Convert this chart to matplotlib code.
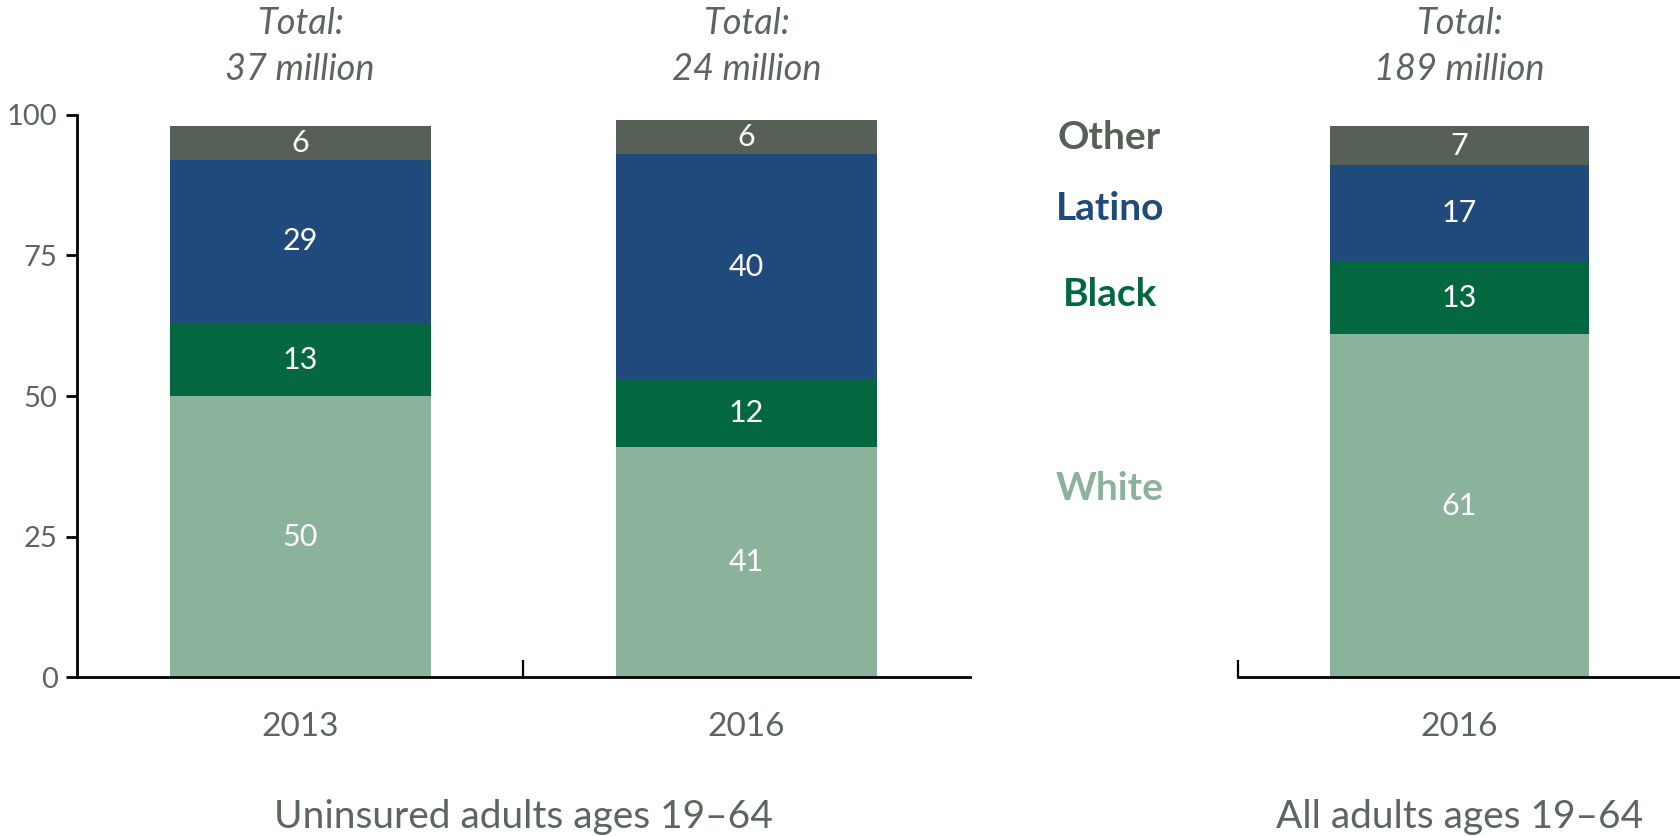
import matplotlib
matplotlib.use("Agg")
import matplotlib.pyplot as plt
import numpy as np

plt.rcParams['font.family'] = ['Lato', 'DejaVu Sans']

# data
groups = ["Other", "Latino", "Black", "White"]
left_years = ["2013", "2016"]
left_white = [50, 41]
left_black = [13, 12]
left_latino = [29, 40]
left_other = [6, 6]
left_totals = ["37 million", "24 million"]

right_years = ["2016"]
right_white = [61]
right_black = [13]
right_latino = [17]
right_other = [7]
right_totals = ["189 million"]

colors = {"White": "#8BB29B", "Black": "#03683F", "Latino": "#20497C", "Other": "#576057"}
text_gray = "#5B665C"

fig = plt.figure(figsize=(16.81, 8.36), dpi=100)
ax1 = fig.add_axes([0.0458, 0.1896, 0.531, 0.6732])
ax2 = fig.add_axes([0.7365, 0.1896, 0.2635, 0.6732])


def stacked(ax, years, white, black, latino, other, totals, width=0.585):
    x = np.arange(len(years))
    bottom = np.zeros(len(years))
    for name, vals in [("White", white), ("Black", black), ("Latino", latino), ("Other", other)]:
        vals = np.array(vals, dtype=float)
        ax.bar(x, vals, width, bottom=bottom, color=colors[name], edgecolor="none")
        for xi, b, v in zip(x, bottom, vals):
            ax.text(xi, b + v / 2, f"{v:.0f}", ha="center", va="center",
                    color="white", fontsize=22)
        bottom += vals
    for xi, t in zip(x, totals):
        ax.text(xi, 112.2, "Total:\n" + t, ha="center", va="center", style="italic",
                color=text_gray, fontsize=26, linespacing=1.48, clip_on=False)
    ax.set_ylim(0, 100)
    ax.set_xticks(x)
    ax.set_xticklabels(years, fontsize=24, color=text_gray)
    ax.tick_params(axis="x", length=0, pad=25)
    ax.tick_params(axis="x", which="minor", direction="in", length=12, width=1.6, color="black")
    for s in ["top", "right"]:
        ax.spines[s].set_visible(False)
    ax.spines["bottom"].set_linewidth(2)
    ax.spines["left"].set_linewidth(2)


stacked(ax1, left_years, left_white, left_black, left_latino, left_other, left_totals)
ax1.set_xlim(-0.5, 1.5)
ax1.set_xticks([0.5], minor=True)
ax1.set_yticks([0, 25, 50, 75, 100])
ax1.tick_params(axis="y", direction="out", length=8, width=2, labelsize=21,
                labelcolor=text_gray, pad=6)
ax1.text(0.5, -24.8, "Uninsured adults ages 19\u201364", ha="center", va="center",
         color=text_gray, fontsize=28, clip_on=False)

stacked(ax2, right_years, right_white, right_black, right_latino, right_other, right_totals)
ax2.set_xlim(-0.5, 0.5)
ax2.set_xticks([-0.5], minor=True)
ax2.spines["left"].set_visible(False)
ax2.set_yticks([])
ax2.text(0, -24.8, "All adults ages 19\u201364", ha="center", va="center",
         color=text_gray, fontsize=28, clip_on=False)

label_y = [96, 83.3, 68, 33.5]
for name, yv in zip(groups, label_y):
    ax2.text(-0.79, yv, name, ha="center", va="center", fontsize=28,
             fontweight="bold", color=colors[name], clip_on=False)

fig.savefig("out.png", dpi=100)
